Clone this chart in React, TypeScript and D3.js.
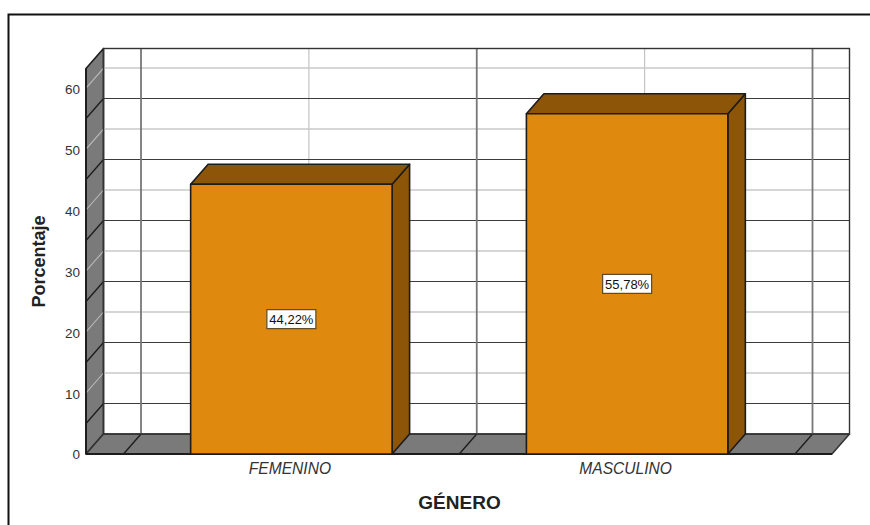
import * as d3 from "d3";
import { useEffect, useRef } from "react";

const WIDTH = 870;
const HEIGHT = 525;

const CATEGORIES = ["FEMENINO", "MASCULINO"];
const PERCENTS = [44.22, 55.78];
const BAR_LABELS = ["44,22%", "55,78%"];
const Y_TICKS = [0, 10, 20, 30, 40, 50, 60];
const MINOR_GRID = [5, 15, 25, 35, 45, 55];
const X_TITLE = "GÉNERO";
const Y_TITLE = "Porcentaje";

// Fake 3D offset between the front plane and the back wall.
const DX = 17.5;
const DY = -20;
const FRONT = { left: 86, right: 832, bottom: 454 };
const Y_MAX = 63.2;
const BAR_RATIO = 0.6;

const WALL = "#7a7a7a";
const BAR = "#e0890f";
const BAR_DARK = "#8c5508";
const DARK_LINE = "#1c1c1c";

type G = d3.Selection<SVGGElement, unknown, null, undefined>;

function poly(g: G, pts: [number, number][], fill: string, stroke = DARK_LINE, width = 1.6) {
  g.append("path")
    .attr("d", `${d3.line()(pts)}Z`)
    .attr("fill", fill)
    .attr("stroke", stroke)
    .attr("stroke-width", width)
    .attr("stroke-linejoin", "round");
}

function segment(g: G, a: [number, number], b: [number, number], stroke: string, width: number) {
  g.append("line")
    .attr("x1", a[0])
    .attr("y1", a[1])
    .attr("x2", b[0])
    .attr("y2", b[1])
    .attr("stroke", stroke)
    .attr("stroke-width", width);
}

export default function App() {
  const ref = useRef<SVGSVGElement>(null);

  useEffect(() => {
    const svg = d3.select(ref.current);
    svg.selectAll("*").remove();
    const g = svg.append("g") as unknown as G;

    const y = d3.scaleLinear().domain([0, Y_MAX]).range([FRONT.bottom, 68.5]);
    const x = d3.scaleBand<string>().domain(CATEGORIES).range([123.5, 795]).padding(0);
    const top = y(Y_MAX);
    const { left, right, bottom } = FRONT;
    const backLeft = left + DX;
    const backRight = right + DX;

    // outer frame, open to the right and bottom
    g.append("path")
      .attr("d", `M8.5 525V14.5H870`)
      .attr("fill", "none")
      .attr("stroke", "#111")
      .attr("stroke-width", 2);

    // back wall
    g.append("rect")
      .attr("x", backLeft)
      .attr("y", top + DY)
      .attr("width", backRight - backLeft)
      .attr("height", bottom - top)
      .attr("fill", "#fff");

    const edges = [...CATEGORIES.map((c) => x(c) as number), 795];

    // band centres are light and sit under the horizontals
    CATEGORIES.forEach((c) => {
      const cx = (x(c) as number) + x.bandwidth() / 2 + DX;
      segment(g, [cx, top + DY], [cx, bottom + DY], "#c4c4c4", 1.2);
    });

    // left wall and floor
    poly(g, [[left, y(Y_MAX)], [backLeft, top + DY], [backLeft, bottom + DY], [left, bottom]], WALL);
    poly(g, [[left, bottom], [backLeft, bottom + DY], [backRight, bottom + DY], [right, bottom]], WALL, "#333", 1.5);

    // horizontal gridlines across both walls
    Y_TICKS.filter((t) => t > 0).forEach((t) => {
      segment(g, [left, y(t)], [backLeft, y(t) + DY], "#bdbdbd", 1.1);
      segment(g, [backLeft, y(t) + DY], [backRight, y(t) + DY], "#c8c8c8", 1.5);
    });
    MINOR_GRID.forEach((t) => {
      segment(g, [left, y(t)], [backLeft, y(t) + DY], DARK_LINE, 1.4);
      segment(g, [backLeft, y(t) + DY], [backRight, y(t) + DY], "#3c3c3c", 1.2);
    });

    // band edges: dark verticals on the wall, continuing over the floor
    edges.forEach((e) => {
      segment(g, [e + DX, top + DY], [e + DX, bottom + DY], "#777", 1.8);
      segment(g, [e, bottom], [e + DX, bottom + DY], DARK_LINE, 1.4);
    });

    // back wall outline, on top of the gridlines
    g.append("rect")
      .attr("x", backLeft)
      .attr("y", top + DY)
      .attr("width", backRight - backLeft)
      .attr("height", bottom - top)
      .attr("fill", "none")
      .attr("stroke", "#333")
      .attr("stroke-width", 1.4);
    segment(g, [left, y(Y_MAX)], [left, bottom], DARK_LINE, 1.8);
    segment(g, [left, bottom], [right, bottom], DARK_LINE, 1.8);

    // bars
    CATEGORIES.forEach((c, i) => {
      const w = x.bandwidth() * BAR_RATIO;
      const x0 = (x(c) as number) + (x.bandwidth() - w) / 2;
      const x1 = x0 + w;
      const yTop = y(PERCENTS[i]);
      poly(g, [[x1, bottom], [x1 + DX, bottom + DY], [x1 + DX, yTop + DY], [x1, yTop]], BAR_DARK);
      poly(g, [[x0, yTop], [x0 + DX, yTop + DY], [x1 + DX, yTop + DY], [x1, yTop]], BAR_DARK);
      poly(g, [[x0, yTop], [x1, yTop], [x1, bottom], [x0, bottom]], BAR);

      const cx = (x0 + x1) / 2;
      const cy = (yTop + bottom) / 2;
      g.append("rect")
        .attr("x", cx - 24.5)
        .attr("y", cy - 9.5)
        .attr("width", 49)
        .attr("height", 19)
        .attr("fill", "#fff")
        .attr("stroke", "#5a4a2a")
        .attr("stroke-width", 1.2);
      g.append("text")
        .attr("x", cx)
        .attr("y", cy)
        .attr("dy", "0.36em")
        .attr("text-anchor", "middle")
        .attr("font-size", 13)
        .attr("fill", "#111")
        .text(BAR_LABELS[i]);

      g.append("text")
        .attr("x", cx - 1.5)
        .attr("y", 474)
        .attr("text-anchor", "middle")
        .attr("font-size", 15.6)
        .attr("font-style", "italic")
        .attr("fill", "#333")
        .text(c);
    });

    // y tick labels
    g.append("g")
      .selectAll("text")
      .data(Y_TICKS)
      .join("text")
      .attr("x", 80)
      .attr("y", (d) => y(d) + (d === 0 ? 0.5 : 1.5))
      .attr("dy", "0.36em")
      .attr("text-anchor", "end")
      .attr("font-size", 13.5)
      .attr("fill", "#333")
      .text((d) => d);

    // axis titles
    g.append("text")
      .attr("x", 459.5)
      .attr("y", 509)
      .attr("text-anchor", "middle")
      .attr("font-size", 19)
      .attr("font-weight", "bold")
      .attr("fill", "#222")
      .text(X_TITLE);
    g.append("text")
      .attr("transform", "translate(45,261.5) rotate(-90)")
      .attr("text-anchor", "middle")
      .attr("font-size", 18)
      .attr("font-weight", "bold")
      .attr("fill", "#222")
      .text(Y_TITLE);
  }, []);

  return (
    <svg
      ref={ref}
      width={WIDTH}
      height={HEIGHT}
      viewBox={`0 0 ${WIDTH} ${HEIGHT}`}
      style={{ position: "absolute", left: 0, top: 0, fontFamily: '"Liberation Sans", Arial, sans-serif' }}
    />
  );
}
